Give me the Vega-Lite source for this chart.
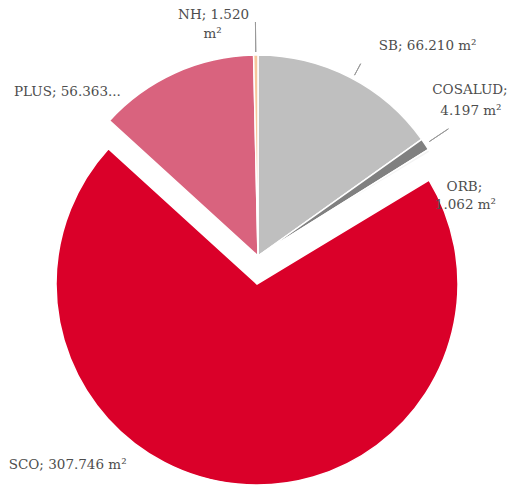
{
  "$schema": "https://vega.github.io/schema/vega-lite/v6.json",
  "width": 516,
  "height": 512,
  "autosize": {"type": "none"},
  "padding": 0,
  "background": "white",
  "config": {
    "view": {"stroke": null},
    "text": {"font": "DejaVu Serif", "fontSize": 13.5, "fill": "#4d4d4d", "baseline": "middle"}
  },
  "data": {
    "values": [
      {"cat": "SB", "value": 66210, "i": 1, "line1": "SB; 66.210 m²", "line2": ""},
      {"cat": "COSALUD", "value": 4197, "i": 2, "line1": "COSALUD;", "line2": "4.197 m²"},
      {"cat": "ORB", "value": 1062, "i": 3, "line1": "ORB;", "line2": "1.062 m²"},
      {"cat": "SCO", "value": 307746, "i": 4, "line1": "SCO; 307.746 m²", "line2": ""},
      {"cat": "PLUS", "value": 56363, "i": 5, "line1": "PLUS; 56.363...", "line2": ""},
      {"cat": "NH", "value": 1520, "i": 6, "line1": "NH; 1.520", "line2": "m²"}
    ]
  },
  "encoding": {
    "theta": {"field": "value", "type": "quantitative", "stack": true, "scale": {"domain": [0, 437098]}},
    "order": {"field": "i", "type": "quantitative", "sort": "ascending"}
  },
  "layer": [
    {
      "mark": {"type": "arc", "outerRadius": 201, "stroke": "white", "strokeWidth": 1.5},
      "encoding": {
        "color": {"field": "cat", "type": "nominal", "legend": null,
          "scale": {"domain": ["SB", "COSALUD", "ORB", "SCO", "PLUS", "NH"],
                    "range": ["#bfbfbf", "#808080", "#f4f4f4", "#da0029", "#d9637e", "#f6c79c"]}},
        "opacity": {"condition": {"test": "datum.cat === 'SCO'", "value": 0}, "value": 1}
      }
    },
    {
      "mark": {"type": "arc", "outerRadius": 201, "stroke": "white", "strokeWidth": 1.5, "xOffset": -1, "yOffset": 28},
      "encoding": {
        "color": {"field": "cat", "type": "nominal", "legend": null},
        "opacity": {"condition": {"test": "datum.cat === 'SCO'", "value": 1}, "value": 0}
      }
    },
    {
      "mark": {"type": "arc", "outerRadius": 234, "innerRadius": 204, "padAngle": 2, "fillOpacity": 0, "stroke": "#999999", "strokeWidth": 1},
      "encoding": {"opacity": {"condition": {"test": "datum.cat === 'NH'", "value": 1}, "value": 0}}
    },
    {
      "mark": {"type": "arc", "outerRadius": 218, "innerRadius": 205, "padAngle": 2, "thetaOffset": 0.0145, "fillOpacity": 0, "stroke": "#999999", "strokeWidth": 1},
      "encoding": {"opacity": {"condition": {"test": "datum.cat === 'SB'", "value": 1}, "value": 0}}
    },
    {
      "mark": {"type": "arc", "outerRadius": 229, "innerRadius": 206, "padAngle": 2, "fillOpacity": 0, "stroke": "#999999", "strokeWidth": 1},
      "encoding": {"opacity": {"condition": {"test": "datum.cat === 'COSALUD'", "value": 1}, "value": 0}}
    },
    {
      "mark": {"type": "text", "radius": 220, "align": "left", "dx": 20, "dy": -14},
      "encoding": {"text": {"condition": {"test": "datum.cat === 'SB'", "field": "line1", "type": "nominal"}, "value": ""}}
    },
    {
      "mark": {"type": "text", "radius": 220, "align": "center", "dx": 29, "dy": -44},
      "encoding": {"text": {"condition": {"test": "datum.cat === 'COSALUD'", "field": "line1", "type": "nominal"}, "value": ""}}
    },
    {
      "mark": {"type": "text", "radius": 220, "align": "center", "dx": 30, "dy": -23},
      "encoding": {"text": {"condition": {"test": "datum.cat === 'COSALUD'", "field": "line2", "type": "nominal"}, "value": ""}}
    },
    {
      "mark": {"type": "text", "radius": 220, "align": "center", "dx": 19, "dy": 46},
      "encoding": {"text": {"condition": {"test": "datum.cat === 'ORB'", "field": "line1", "type": "nominal"}, "value": ""}}
    },
    {
      "mark": {"type": "text", "radius": 220, "align": "center", "dx": 20, "dy": 64},
      "encoding": {"text": {"condition": {"test": "datum.cat === 'ORB'", "field": "line2", "type": "nominal"}, "value": ""}}
    },
    {
      "mark": {"type": "text", "radius": 220, "align": "right", "dx": -110, "dy": -10},
      "encoding": {"text": {"condition": {"test": "datum.cat === 'SCO'", "field": "line1", "type": "nominal"}, "value": ""}}
    },
    {
      "mark": {"type": "text", "radius": 220, "align": "right", "dx": -46, "dy": 36},
      "encoding": {"text": {"condition": {"test": "datum.cat === 'PLUS'", "field": "line1", "type": "nominal"}, "value": ""}}
    },
    {
      "mark": {"type": "text", "radius": 220, "align": "center", "dx": -42, "dy": -21},
      "encoding": {"text": {"condition": {"test": "datum.cat === 'NH'", "field": "line1", "type": "nominal"}, "value": ""}}
    },
    {
      "mark": {"type": "text", "radius": 220, "align": "center", "dx": -43, "dy": -2},
      "encoding": {"text": {"condition": {"test": "datum.cat === 'NH'", "field": "line2", "type": "nominal"}, "value": ""}}
    }
  ]
}
